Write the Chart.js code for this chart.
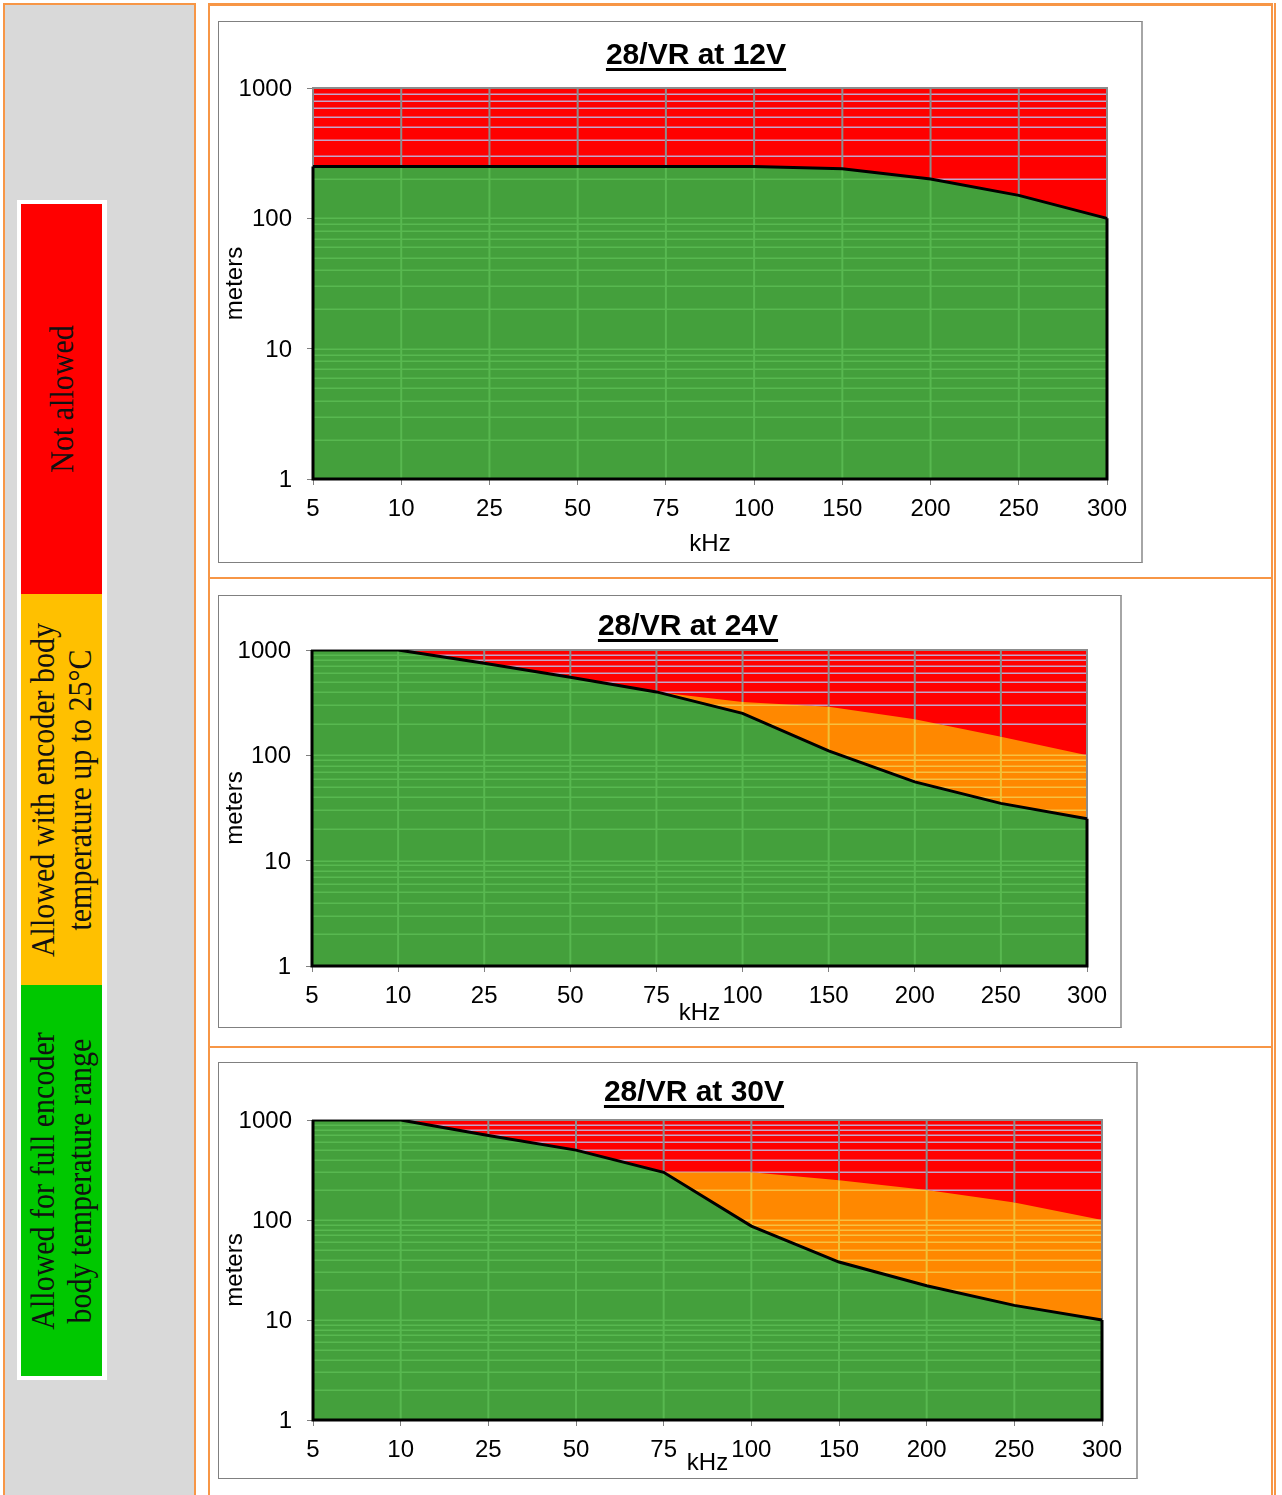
<!DOCTYPE html>
<html>
<head>
<meta charset="utf-8">
<script src="https://cdn.jsdelivr.net/npm/chart.js@4.4.1/dist/chart.umd.min.js"></script>
<style>
  html, body { margin: 0; padding: 0; background: #fff; }
  body { width: 1282px; height: 1495px; position: relative; overflow: hidden; font-family: "Liberation Sans", Arial, sans-serif; }
  .cellL { position: absolute; left: 3px; top: 3px; width: 189px; height: 1600px; background: #d9d9d9; border: 2px solid #f79646; }
  .cellR { position: absolute; left: 208px; top: 3px; width: 1061px; height: 1600px; border: 2px solid #f79646; border-top-width: 3px; }
  .cellR2 { position: absolute; left: 1274px; top: 3px; width: 2px; height: 1600px; background: #f79646; }
  .rowline { position: absolute; left: 208px; width: 1065px; height: 2px; background: #f79646; }
  .legend { position: absolute; left: 17px; top: 200px; width: 82px; height: 1172px; background: #fff; padding: 4px; }
  .band { position: relative; width: 81px; overflow: hidden; }
  .band span { position: absolute; left: calc(50% - 1px); top: 50%; white-space: nowrap; text-align: center;
    font-family: "Liberation Serif", "Times New Roman", serif; font-size: 30px; line-height: 33px; color: #111;
    transform: translate(-50%, -50%) rotate(-90deg) scaleY(1.1); }
  .box { position: absolute; border: 1px solid #808080; border-right: 2px solid #a6a6a6; background: #fff; }
  .box canvas { display: block; }
  .ttl { position: absolute; width: 400px; text-align: center; font-weight: bold; font-size: 30px; line-height: 30px; color: #000;
    text-decoration: underline; text-decoration-thickness: 3px; text-underline-offset: 4px; }
</style>
</head>
<body>
<div class="cellL"></div>
<div class="cellR"></div>
<div class="cellR2"></div>
<div class="rowline" style="top:577px"></div>
<div class="rowline" style="top:1046px"></div>

<div class="legend">
  <div class="band" style="height:390px;background:#ff0000"><span>Not allowed</span></div>
  <div class="band" style="height:391px;background:#ffc000"><span>Allowed with encoder body<br>temperature up to 25°C</span></div>
  <div class="band" style="height:391px;background:#00c800"><span>Allowed for full encoder<br>body temperature range</span></div>
</div>

<div class="box" style="left:218px;top:21px"><canvas id="c12" width="922" height="540"></canvas></div>
<div class="box" style="left:218px;top:595px"><canvas id="c24" width="901" height="431"></canvas></div>
<div class="box" style="left:218px;top:1062px"><canvas id="c30" width="917" height="415"></canvas></div>

<div class="ttl" style="left:496px;top:39px">28/VR at 12V</div>
<div class="ttl" style="left:488px;top:610px">28/VR at 24V</div>
<div class="ttl" style="left:494px;top:1076px">28/VR at 30V</div>

<script>
// cable length limits (meters) per output frequency
const freqLabels = ['5', '10', '25', '50', '75', '100', '150', '200', '250', '300'];
const yTickValues = [1, 10, 100, 1000];
const gridDecades = [1, 10, 100];
const gridSteps = [1, 2, 3, 4, 5, 6, 7, 8, 9];

// green: allowed for full range, orange top: allowed up to 25°C
const full12V = [250, 250, 250, 250, 250, 250, 240, 200, 150, 100];
const warm12V = [250, 250, 250, 250, 250, 250, 240, 200, 150, 100];
const full24V = [1000, 1000, 750, 550, 400, 250, 110, 56, 35, 25];
const warm24V = [1000, 1000, 750, 550, 400, 320, 290, 220, 150, 100];
const full30V = [1000, 1000, 700, 500, 300, 87, 38, 22, 14, 10];
const warm30V = [1000, 1000, 700, 500, 300, 300, 250, 200, 150, 100];

const RED = '#ff0000';
const ORANGE = '#ff8800';
const GREEN = '#44a03c';
const FONT = '"Liberation Sans", Arial, sans-serif';

Chart.defaults.font.family = FONT;
Chart.defaults.color = '#000';

const gridValues = [];
gridDecades.forEach(d => gridSteps.forEach(s => gridValues.push(d * s)));

function tracePoly(ctx, pts) {
  ctx.beginPath();
  pts.forEach((p, i) => i ? ctx.lineTo(p[0], p[1]) : ctx.moveTo(p[0], p[1]));
  ctx.closePath();
}

const zonePlugin = {
  id: 'zones',
  beforeDraw(chart) {
    const { ctx, chartArea: a } = chart;
    ctx.save();
    ctx.fillStyle = RED;
    ctx.fillRect(a.left, a.top, a.width, a.height);
    ctx.restore();
  },
  beforeDatasetsDraw(chart) {
    // runs after the filler, so the grid sits on top of the coloured zones
    const { ctx, chartArea: a, scales: { x, y } } = chart;
    const low = chart.getDatasetMeta(0).data.map(p => [p.x, p.y]);
    const high = chart.getDatasetMeta(1).data.map(p => [p.x, p.y]);
    const zones = [
      [low.concat([[a.right, a.bottom], [a.left, a.bottom]]), '#58b850', '#58b850'],
      [low.concat(high.slice().reverse()), '#f7c040', '#f0c038'],
      [high.concat([[a.right, a.top], [a.left, a.top]]), '#c4a4c8', '#8c8c8c']
    ];
    zones.forEach(([poly, hCol, vCol]) => {
      ctx.save();
      tracePoly(ctx, poly);
      ctx.clip();
      ctx.lineWidth = 1.5;
      ctx.strokeStyle = hCol;
      gridValues.forEach(v => {
        const py = Math.round(y.getPixelForValue(v)) + 0.25;
        ctx.beginPath(); ctx.moveTo(a.left, py); ctx.lineTo(a.right, py); ctx.stroke();
      });
      ctx.lineWidth = 2;
      ctx.strokeStyle = vCol;
      x.ticks.forEach((t, i) => {
        const px = x.getPixelForTick(i);
        ctx.beginPath(); ctx.moveTo(px, a.top); ctx.lineTo(px, a.bottom); ctx.stroke();
      });
      ctx.restore();
    });
    ctx.save();
    ctx.strokeStyle = '#8c8c8c';
    ctx.lineWidth = 2;
    ctx.strokeRect(a.left, a.top, a.width, a.height);
    ctx.restore();
  },
  afterDatasetsDraw(chart) {
    const { ctx, chartArea: a } = chart;
    const pts = chart.getDatasetMeta(0).data;
    const first = pts[0], last = pts[pts.length - 1];
    ctx.save();
    ctx.strokeStyle = '#000';
    ctx.lineWidth = 3;
    ctx.beginPath();
    ctx.moveTo(first.x, first.y);
    ctx.lineTo(a.left, a.bottom);
    ctx.lineTo(a.right, a.bottom);
    ctx.lineTo(last.x, last.y);
    ctx.stroke();
    ctx.restore();
  }
};

function drawLimits(id, full, warm, lay) {
  return new Chart(document.getElementById(id), {
    type: 'line',
    data: {
      labels: freqLabels,
      datasets: [
        {
          label: 'Allowed for full encoder body temperature range',
          data: full,
          borderColor: '#000',
          borderWidth: 3,
          backgroundColor: GREEN,
          fill: 'start',
          pointRadius: 0,
          tension: 0
        },
        {
          label: 'Allowed with encoder body temperature up to 25°C',
          data: warm,
          borderWidth: 0,
          borderColor: 'rgba(0,0,0,0)',
          backgroundColor: ORANGE,
          fill: 0,
          pointRadius: 0,
          tension: 0
        }
      ]
    },
    options: {
      responsive: false,
      animation: false,
      events: [],
      layout: { padding: { left: 0, top: lay.top, right: lay.right, bottom: 0 } },
      plugins: {
        legend: { display: false },
        tooltip: { enabled: false },
        title: { display: false },
        filler: { drawTime: 'beforeDatasetsDraw', propagate: false }
      },
      scales: {
        x: {
          type: 'category',
          offset: false,
          border: { display: false },
          grid: { drawOnChartArea: false, drawTicks: true, tickLength: 6, tickColor: '#808080', tickWidth: 1 },
          ticks: { autoSkip: false, maxRotation: 0, padding: 10, color: '#000', font: { size: 24 } },
          title: { display: true, text: 'kHz', color: '#000', font: { size: 24 }, padding: { top: 0, bottom: lay.khz } },
          afterFit: s => { s.height = lay.xh; }
        },
        y: {
          type: 'logarithmic',
          min: 1,
          max: 1000,
          border: { display: false },
          afterBuildTicks: s => { s.ticks = yTickValues.map(v => ({ value: v, major: true })); },
          grid: { drawOnChartArea: false, drawTicks: true, tickLength: 6, tickColor: '#808080', tickWidth: 1 },
          ticks: { autoSkip: false, padding: 15, labelOffset: 1.5, color: '#000', font: { size: 24 }, callback: v => String(v) },
          title: { display: true, text: 'meters', color: '#000', font: { size: 24 }, padding: { top: 2, bottom: 0 } },
          afterFit: s => { s.width = lay.yw; }
        }
      }
    },
    plugins: [zonePlugin]
  });
}

drawLimits('c12', full12V, warm12V, { top: 66, right: 34, xh: 83, yw: 94, khz: 3 });
drawLimits('c24', full24V, warm24V, { top: 54, right: 33, xh: 61, yw: 93, khz: -1 });
drawLimits('c30', full30V, warm30V, { top: 57, right: 34, xh: 58, yw: 94, khz: 0.5 });
</script>
</body>
</html>
